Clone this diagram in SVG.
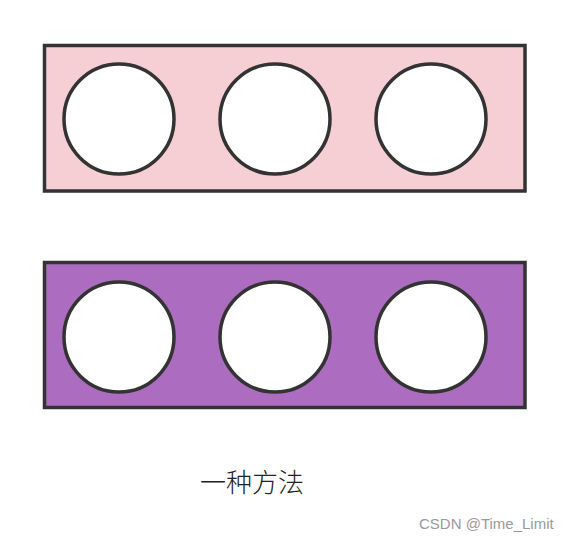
<svg xmlns="http://www.w3.org/2000/svg" width="570" height="540" viewBox="0 0 570 540">
<style>
.box{stroke:#333333;stroke-width:3.5}
.hole{fill:#ffffff;stroke:#333333;stroke-width:3.5}
.label{font-family:"Noto Sans CJK SC","Noto Sans",sans-serif;font-size:26px;font-weight:300;fill:#222222}
.wm{font-family:"Liberation Sans",Arial,sans-serif;font-size:15px;fill:#9a9a9a}
</style>
<rect width="570" height="540" fill="#ffffff"/>
<g id="top-bar">
<rect class="box" x="44.5" y="45.5" width="480.5" height="145.5" fill="#F5CFD3"/>
<circle class="hole" cx="119" cy="119" r="55"/>
<circle class="hole" cx="275" cy="119" r="55"/>
<circle class="hole" cx="431" cy="119" r="55"/>
</g>
<g id="bottom-bar">
<rect class="box" x="44.5" y="262.5" width="480.5" height="145" fill="#AC6CC0"/>
<circle class="hole" cx="119" cy="337" r="55"/>
<circle class="hole" cx="275" cy="337" r="55"/>
<circle class="hole" cx="431" cy="337" r="55"/>
</g>
<g id="connectors"></g>
<text class="label" x="200" y="492">一种方法</text>
<text class="wm" x="419" y="529">CSDN @Time_Limit</text>
</svg>
